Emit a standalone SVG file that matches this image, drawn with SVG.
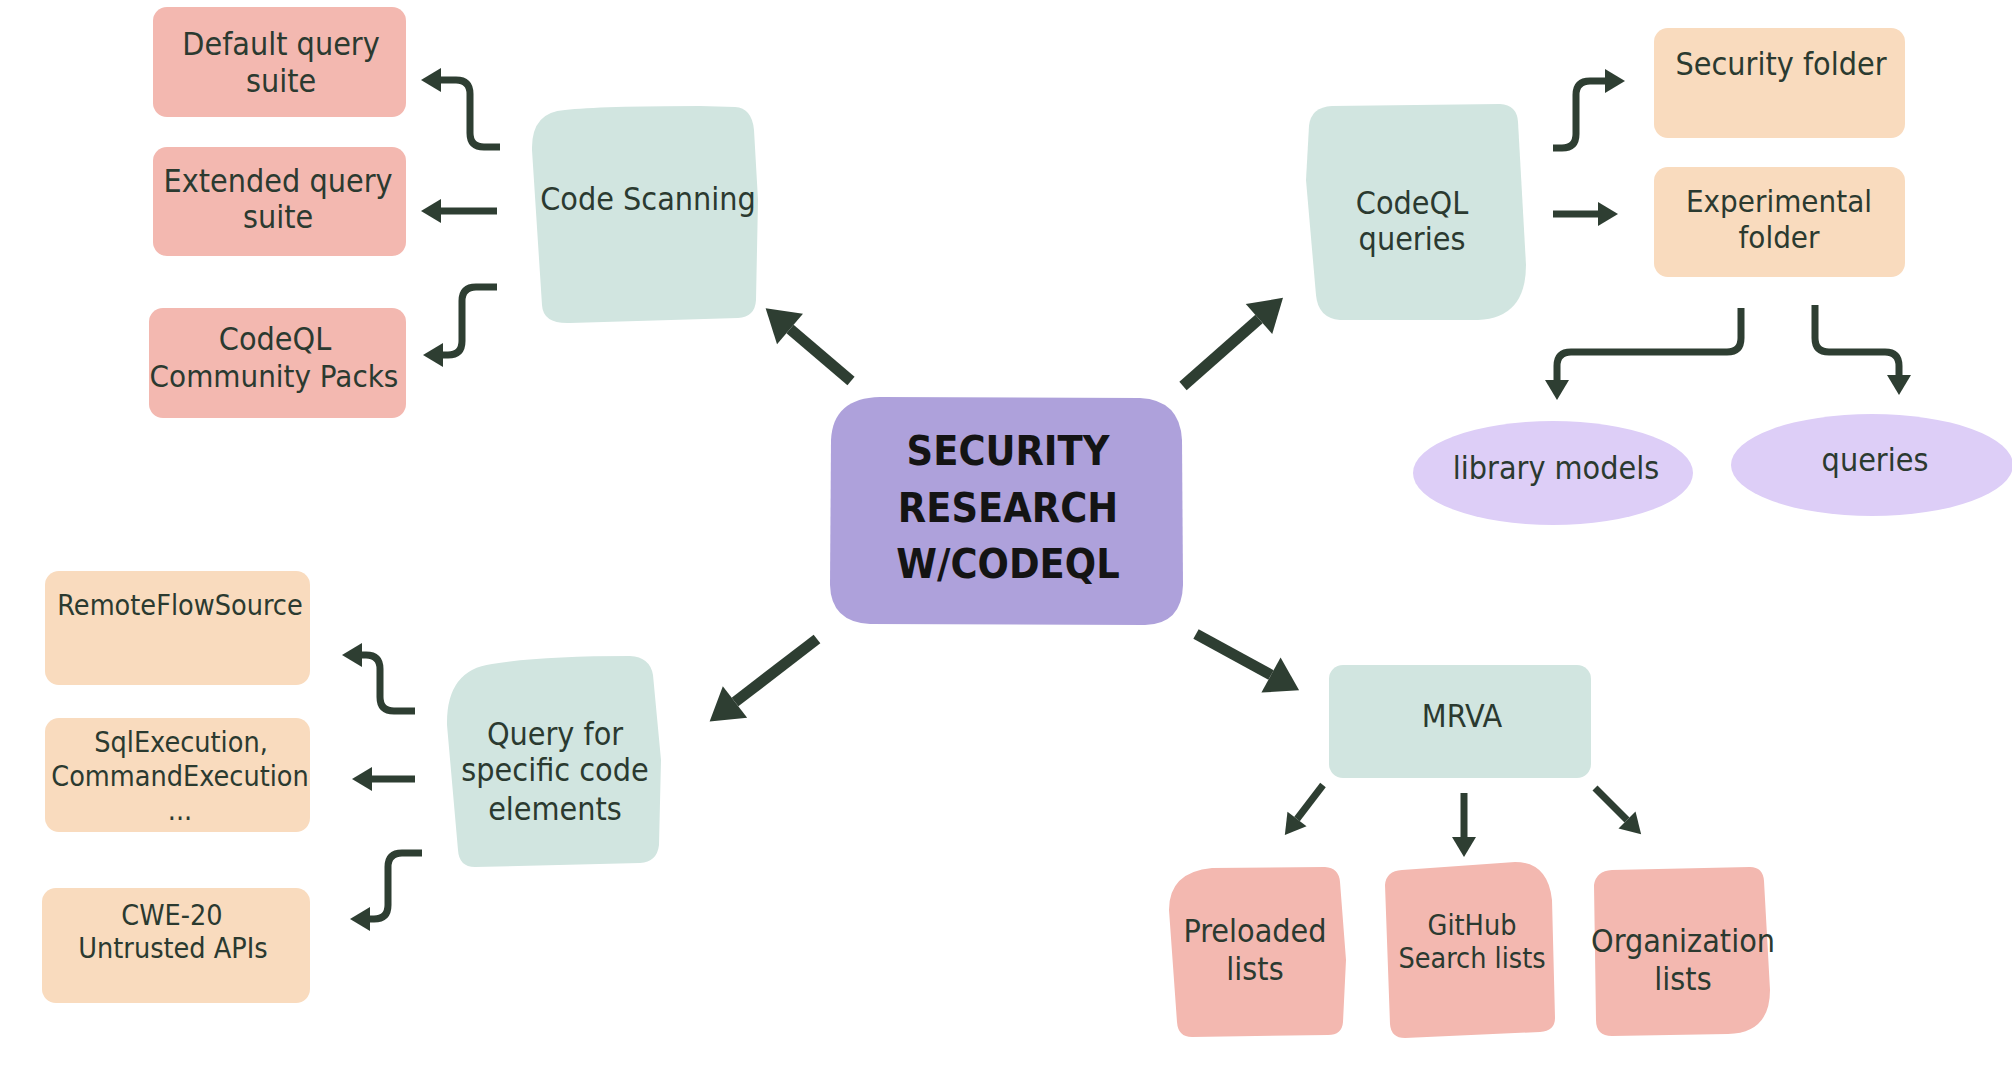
<svg xmlns="http://www.w3.org/2000/svg" width="2012" height="1088" viewBox="0 0 2012 1088">
<style>
.t{font-family:"DejaVu Sans Condensed","DejaVu Sans",sans-serif;font-stretch:condensed;fill:#2b3a30;text-anchor:middle;font-size:32px}
.s{font-size:28.5px}
.n{font-size:31px}
.big{font-family:"DejaVu Sans Condensed","DejaVu Sans",sans-serif;font-stretch:condensed;fill:#141414;text-anchor:middle;font-size:41px;font-weight:bold}
.pink{fill:#f3b8b0}
.peach{fill:#f9dbbe}
.mint{fill:#d1e5e0}
.purple{fill:#aea1db}
.lilac{fill:#ddcef7}
.c{fill:none;stroke:#2e3e32;stroke-width:7}
.cb{fill:none;stroke:#2e3e32;stroke-width:11}
</style>
<defs>
<marker id="ah" markerUnits="userSpaceOnUse" markerWidth="22" markerHeight="26" refX="0" refY="12" orient="auto" overflow="visible">
<path d="M0,0 L20,12 L0,24 z" fill="#2e3e32"/>
</marker>
<marker id="ahb" markerUnits="userSpaceOnUse" markerWidth="34" markerHeight="42" refX="0" refY="20" orient="auto" overflow="visible">
<path d="M0,0 L32,20 L0,40 z" fill="#2e3e32"/>
</marker>
</defs>
<rect width="2012" height="1088" fill="#ffffff"/>

<g id="connectors">
<path class="c" marker-end="url(#ah)" d="M500,147 H484 Q470,147 470,133 V94 Q470,80 456,80 H441"/>
<path class="c" marker-end="url(#ah)" d="M497,211 H441"/>
<path class="c" marker-end="url(#ah)" d="M497,287 H476 Q462,287 462,301 V341 Q462,355 448,355 H443"/>
<path class="c" marker-end="url(#ah)" d="M1553,148 H1562 Q1576,148 1576,134 V95 Q1576,81 1590,81 H1605"/>
<path class="c" marker-end="url(#ah)" d="M1553,214 H1598"/>
<path class="c" marker-end="url(#ah)" d="M1741,308 V338 Q1741,352 1727,352 H1571 Q1557,352 1557,366 V380"/>
<path class="c" marker-end="url(#ah)" d="M1815,305 V338 Q1815,352 1829,352 H1885 Q1899,352 1899,366 V375"/>
<path class="c" marker-end="url(#ah)" d="M415,711 H394 Q380,711 380,697 V669 Q380,655 366,655 H362"/>
<path class="c" marker-end="url(#ah)" d="M415,779 H372"/>
<path class="c" marker-end="url(#ah)" d="M422,853 H402 Q388,853 388,867 V905 Q388,919 374,919 H370"/>
<path class="c" marker-end="url(#ah)" d="M1323,785 L1297,819"/>
<path class="c" marker-end="url(#ah)" d="M1464,793 V837"/>
<path class="c" marker-end="url(#ah)" d="M1595,788 L1627,820"/>
<path class="cb" marker-end="url(#ahb)" d="M851,381 L790,329"/>
<path class="cb" marker-end="url(#ahb)" d="M1183,386 L1259,319"/>
<path class="cb" marker-end="url(#ahb)" d="M817,639 L735,702"/>
<path class="cb" marker-end="url(#ahb)" d="M1196,634 L1271,675"/>
</g>

<g id="center">
<path class="purple" d="M880,397 L1140,398 Q1180,400 1182,440 L1183,585 Q1182,624 1145,625 L870,624 Q831,622 830,585 L831,440 Q833,398 880,397 Z"/>
<text class="big" x="1008" y="465">SECURITY</text>
<text class="big" x="1008" y="522">RESEARCH</text>
<text class="big" x="1008" y="578">W/CODEQL</text>
</g>

<g id="code-scanning">
<path class="mint" d="M565,110 Q600,106 700,106 L735,107 Q752,108 754,130 L758,200 L756,300 Q755,317 738,318 L570,323 Q543,324 542,305 L532,150 Q531,112 565,110 Z"/>
<text class="t" x="648" y="210">Code Scanning</text>
</g>
<g id="default-suite">
<rect class="pink" x="153" y="7" width="253" height="110" rx="14"/>
<text class="t" x="281" y="55">Default query</text>
<text class="t" x="281" y="92">suite</text>
</g>
<g id="extended-suite">
<rect class="pink" x="153" y="147" width="253" height="109" rx="14"/>
<text class="t" x="278" y="192">Extended query</text>
<text class="t" x="278" y="228">suite</text>
</g>
<g id="community-packs">
<rect class="pink" x="149" y="308" width="257" height="110" rx="14"/>
<text class="t" x="275" y="350">CodeQL</text>
<text class="t n" x="274" y="387">Community Packs</text>
</g>

<g id="codeql-queries">
<path class="mint" d="M1332,106 L1500,104 Q1517,105 1518,122 L1526,265 Q1526,318 1478,320 L1340,320 Q1318,318 1316,295 L1306,180 L1309,126 Q1311,107 1332,106 Z"/>
<text class="t" x="1412" y="214">CodeQL</text>
<text class="t" x="1412" y="250">queries</text>
</g>
<g id="security-folder">
<rect class="peach" x="1654" y="28" width="251" height="110" rx="14"/>
<text class="t" x="1781" y="75">Security folder</text>
</g>
<g id="experimental-folder">
<rect class="peach" x="1654" y="167" width="251" height="110" rx="14"/>
<text class="t n" x="1779" y="212">Experimental</text>
<text class="t n" x="1779" y="248">folder</text>
</g>
<g id="library-models">
<ellipse class="lilac" cx="1553" cy="473" rx="140" ry="52"/>
<text class="t" x="1556" y="479">library models</text>
</g>
<g id="queries">
<ellipse class="lilac" cx="1872" cy="465" rx="141" ry="51"/>
<text class="t" x="1875" y="471">queries</text>
</g>

<g id="query-specific">
<path class="mint" d="M492,664 Q540,656 630,656 Q650,657 653,675 L661,760 L659,845 Q657,862 640,863 L475,867 Q459,867 458,850 L447,725 Q446,670 492,664 Z"/>
<text class="t" x="555" y="745">Query for</text>
<text class="t" x="555" y="781">specific code</text>
<text class="t" x="555" y="820">elements</text>
</g>
<g id="remote-flow-source">
<rect class="peach" x="45" y="571" width="265" height="114" rx="14"/>
<text class="t s" x="180" y="615">RemoteFlowSource</text>
</g>
<g id="sql-execution">
<rect class="peach" x="45" y="718" width="265" height="114" rx="14"/>
<text class="t s" x="181" y="752">SqlExecution,</text>
<text class="t s" x="180" y="786">CommandExecution</text>
<text class="t s" x="180" y="820">...</text>
</g>
<g id="cwe-20">
<rect class="peach" x="42" y="888" width="268" height="115" rx="14"/>
<text class="t s" x="172" y="925">CWE-20</text>
<text class="t s" x="173" y="958">Untrusted APIs</text>
</g>

<g id="mrva">
<rect class="mint" x="1329" y="665" width="262" height="113" rx="14"/>
<text class="t" x="1462" y="727">MRVA</text>
</g>
<g id="preloaded-lists">
<path class="pink" d="M1212,868 L1325,867 Q1339,868 1340,882 L1346,960 L1343,1022 Q1342,1035 1328,1035 L1192,1037 Q1178,1037 1177,1022 L1169,910 Q1169,872 1212,868 Z"/>
<text class="t" x="1255" y="942">Preloaded</text>
<text class="t" x="1255" y="980">lists</text>
</g>
<g id="github-search-lists">
<path class="pink" d="M1402,870 L1515,862 Q1548,862 1552,900 L1555,1018 Q1555,1031 1540,1032 L1405,1038 Q1391,1038 1390,1024 L1385,885 Q1386,871 1402,870 Z"/>
<text class="t s" x="1472" y="935">GitHub</text>
<text class="t s" x="1472" y="968">Search lists</text>
</g>
<g id="organization-lists">
<path class="pink" d="M1612,870 L1750,867 Q1763,867 1764,881 L1770,990 Q1770,1033 1728,1034 L1612,1036 Q1596,1036 1596,1020 L1594,885 Q1596,871 1612,870 Z"/>
<text class="t" x="1683" y="952">Organization</text>
<text class="t" x="1683" y="990">lists</text>
</g>
</svg>
